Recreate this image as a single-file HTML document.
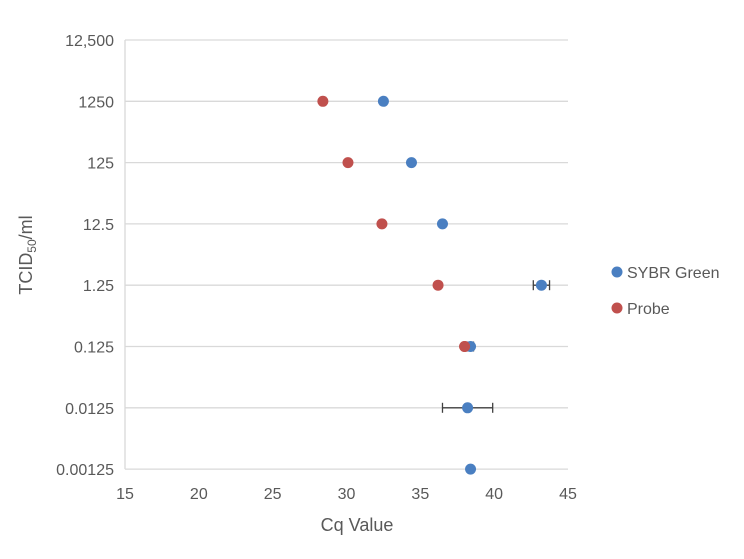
<!DOCTYPE html>
<html><head><meta charset="utf-8"><style>
body{margin:0;background:#fff;}
svg text{font-family:"Liberation Sans",sans-serif;fill:#595959;}
</style></head><body>
<svg id="chart" width="744" height="554" viewBox="0 0 744 554">
<g id="grid"></g>
<g id="yticks"></g>
<g id="xticks"></g>
<g id="marks"></g>
<text x="357" y="531" font-size="18" text-anchor="middle">Cq Value</text>
<text transform="translate(32,255) rotate(-90)" font-size="18" text-anchor="middle">TCID<tspan font-size="12" dy="4">50</tspan><tspan dy="-4">/ml</tspan></text>
<g>
<g><circle cx="617" cy="272" r="5.5" fill="#4a7fc1"/><text x="627" y="278" font-size="16">SYBR Green</text></g>
<g><circle cx="617" cy="308" r="5.5" fill="#c0504d"/><text x="627" y="314" font-size="16">Probe</text></g>
</g>
</svg>
<script>
const yCats=[12500,1250,125,12.5,1.25,0.125,0.0125,0.00125];
const yLabels=["12,500","1250","125","12.5","1.25","0.125","0.0125","0.00125"];
const xTicks=[15,20,25,30,35,40,45];
const sybrY=[1250,125,12.5,1.25,0.125,0.0125,0.00125];
const sybrX=[32.5,34.4,36.5,43.2,38.4,38.2,38.4];
const sybrErr=[0,0,0,0.55,0.2,1.7,0];
const probeY=[1250,125,12.5,1.25,0.125];
const probeX=[28.4,30.1,32.4,36.2,38.0];
const NS='http://www.w3.org/2000/svg';
const x0=125,x1=568,xmin=15,xmax=45,yTop=40,rowH=61.3;
function sx(v){return x0+(v-xmin)/(xmax-xmin)*(x1-x0);}
function sy(v){return yTop+(Math.log10(12500)-Math.log10(v))*rowH;}
function mk(tag,attrs,parent){const e=document.createElementNS(NS,tag);for(const k in attrs)e.setAttribute(k,attrs[k]);parent.appendChild(e);return e;}
const grid=document.getElementById('grid'),yt=document.getElementById('yticks'),xt=document.getElementById('xticks'),marks=document.getElementById('marks');
yCats.forEach((c,i)=>{
 const l=mk('line',{x1:x0,x2:x1,y1:sy(c),y2:sy(c),stroke:'#d9d9d9','stroke-width':1.3},grid);
 
 
 const t=mk('text',{x:114,y:sy(c)+6,'font-size':16,'text-anchor':'end'},yt);
 t.textContent=yLabels[i];
 
 
});
const ax=mk('line',{x1:x0,x2:x0,y1:sy(12500),y2:sy(0.00125),stroke:'#d9d9d9','stroke-width':1.3},grid);


xTicks.forEach(v=>{
 const t=mk('text',{x:sx(v),y:499,'font-size':16,'text-anchor':'middle'},xt);
 t.textContent=v;
 
 
});
probeY.forEach((c,i)=>{
 const p=mk('circle',{cx:sx(probeX[i]),cy:sy(c),r:5.5,fill:'#c0504d'},marks);
 
 
});
sybrY.forEach((c,i)=>{
 const y=sy(c);
 if(sybrErr[i]>0){
  const a=sx(sybrX[i]-sybrErr[i]),b=sx(sybrX[i]+sybrErr[i]);
  const g=mk('g',{stroke:'#404040','stroke-width':1.3},marks);
  
  
  mk('line',{x1:a,x2:b,y1:y,y2:y},g);
  mk('line',{x1:a,x2:a,y1:y-5,y2:y+5},g);
  mk('line',{x1:b,x2:b,y1:y-5,y2:y+5},g);
 }
 const p=mk('circle',{cx:sx(sybrX[i]),cy:y,r:5.5,fill:'#4a7fc1'},marks);
 
 
});
// keep probe at 0.125 visible on top as in reference
const pr=mk('circle',{cx:sx(probeX[4]),cy:sy(probeY[4]),r:5.5,fill:'#c0504d'},marks);


</script>
</body></html>
